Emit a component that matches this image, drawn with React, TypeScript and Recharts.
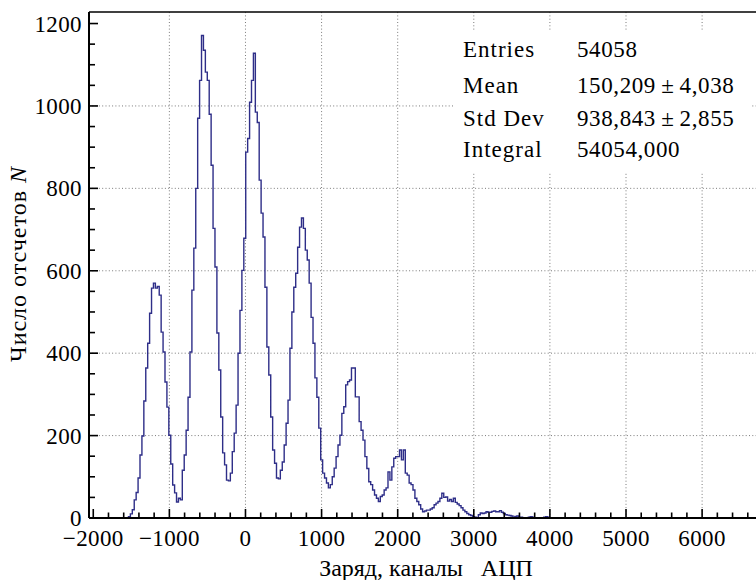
import React from 'react';
import { LineChart, Line, XAxis, YAxis, ReferenceLine } from 'recharts';

// histogram: left edge of first bin, bin width, counts per bin
const binStart = -1588;
const binWidth = 25.26;
const counts = [
  0, 0, 3, 10, 20, 44, 62, 97, 153, 199,
  284, 364, 424, 497, 558, 570, 558, 562, 541, 451,
  403, 330, 269, 201, 131, 80, 61, 39, 48, 44,
  116, 153, 213, 293, 403, 553, 655, 800, 970, 1062,
  1171, 1135, 1082, 1062, 980, 856, 703, 609, 449, 359,
  245, 158, 129, 92, 90, 109, 161, 206, 274, 400,
  504, 601, 679, 888, 921, 1009, 1062, 1128, 985, 960,
  820, 740, 682, 560, 415, 347, 245, 165, 133, 97,
  95, 116, 136, 177, 230, 286, 412, 500, 560, 594,
  657, 706, 728, 703, 650, 626, 570, 487, 424, 340,
  293, 218, 141, 109, 97, 85, 73, 81, 100, 121,
  149, 177, 201, 254, 270, 323, 331, 335, 364, 364,
  294, 294, 234, 213, 189, 149, 120, 88, 81, 68,
  56, 48, 40, 52, 56, 68, 73, 112, 92, 124,
  145, 149, 149, 165, 141, 165, 109, 104, 85, 81,
  68, 48, 40, 32, 22, 15, 17, 19, 19, 22,
  25, 32, 36, 40, 48, 60, 50, 51, 41, 45,
  40, 48, 38, 34, 30, 25, 19, 15, 11, 8,
  6, 3, 2, 1, 8, 12, 11, 12, 15, 14,
  14, 16, 17, 15, 15, 18, 14, 11, 8, 7,
  6, 5, 2, 4, 5, 2, 2, 1, 1, 1,
  2, 3, 2, 1, 1, 0, 1, 0, 2, 3,
  2, 1, 0, 0, 0, 0, 0, 0, 0, 0,
  0, 0, 0, 0, 0, 0, 0, 0, 0, 0,
  1, 1, 0, 0,
];

const xMajor = [-2000, -1000, 0, 1000, 2000, 3000, 4000, 5000, 6000];
const yMajor = [0, 200, 400, 600, 800, 1000, 1200];
const xGrid = [-1000, 0, 1000, 2000, 3000, 4000, 5000, 6000];
const yGrid = [200, 400, 600, 800, 1000];

const statsRows = [
  ['Entries', '54058'],
  ['Mean', '150,209\u2009±\u20094,038'],
  ['Std Dev', '938,843\u2009±\u20092,855'],
  ['Integral', '54054,000'],
];
const statsBaselines = [57, 92.5, 125.5, 157];

const xTitle = 'Заряд, каналы   АЦП';
const yTitle = 'Число отсчетов ';

const X_DOMAIN: [number, number] = [-2056, 6708];
const Y_DOMAIN: [number, number] = [0, 1228];

const FONT = "'Liberation Serif', 'DejaVu Serif', serif";
const LINE_COLOR = '#2e2e88';

const histData = counts
  .map((n, i) => ({ x: binStart + i * binWidth, n }))
  .concat([{ x: binStart + counts.length * binWidth, n: 0 }]);

const xTicks: number[] = [];
for (let v = -2000; v <= 6600; v += 200) xTicks.push(v);
const yTicks: number[] = [];
for (let v = 0; v <= 1200; v += 50) yTicks.push(v);

const fmt = (v: number) => (v < 0 ? '\u2212' + Math.abs(v) : String(v));

const XTick = (props: any) => {
  const { x, y, payload } = props;
  const major = xMajor.includes(payload.value);
  return (
    <g>
      <line x1={x} x2={x} y1={y} y2={y - (major ? 9 : 5.5)} stroke="#000" strokeWidth={1.6} />
      {major && (
        <text x={x} y={y + 28} textAnchor="middle" fontFamily={FONT} fontSize={23} fill="#000" letterSpacing={0.4}>
          {fmt(payload.value)}
        </text>
      )}
    </g>
  );
};

const YTick = (props: any) => {
  const { x, y, payload } = props;
  const major = yMajor.includes(payload.value);
  return (
    <g>
      <line x1={x} x2={x + (major ? 9 : 6)} y1={y} y2={y} stroke="#000" strokeWidth={1.6} />
      {major && (
        <text x={x - 7} y={y + 8} textAnchor="end" fontFamily={FONT} fontSize={23} fill="#000" letterSpacing={0.4}>
          {payload.value}
        </text>
      )}
    </g>
  );
};

export default function App() {
  return (
    <div style={{ position: 'absolute', left: 0, top: 0, width: 756, height: 580, overflow: 'hidden', background: '#fff' }}>
      <LineChart width={756} height={580} data={histData} margin={{ top: 12, right: 0, bottom: 0, left: 0 }}>
        {xGrid.map((v) => (
          <ReferenceLine key={'gx' + v} x={v} stroke="#7a7a7a" strokeDasharray="1 2.3" strokeWidth={1} />
        ))}
        {yGrid.map((v) => (
          <ReferenceLine key={'gy' + v} y={v} stroke="#7a7a7a" strokeDasharray="1 2.3" strokeWidth={1} />
        ))}
        <ReferenceLine y={Y_DOMAIN[1]} stroke="#000" strokeWidth={1.6} />
        <XAxis
          type="number"
          dataKey="x"
          domain={X_DOMAIN}
          allowDataOverflow
          ticks={xTicks}
          interval={0}
          tick={<XTick />}
          tickLine={false}
          tickSize={0}
          tickMargin={0}
          height={62}
          axisLine={{ stroke: '#000', strokeWidth: 2 }}
        />
        <YAxis
          type="number"
          domain={Y_DOMAIN}
          allowDataOverflow
          ticks={yTicks}
          interval={0}
          tick={<YTick />}
          tickLine={false}
          tickSize={0}
          tickMargin={0}
          width={89}
          axisLine={{ stroke: '#000', strokeWidth: 2 }}
        />
        <Line
          type="stepAfter"
          dataKey="n"
          stroke={LINE_COLOR}
          strokeWidth={1.4}
          dot={false}
          activeDot={false}
          isAnimationActive={false}
        />
      </LineChart>
      <svg width={756} height={580} style={{ position: 'absolute', left: 0, top: 0, pointerEvents: 'none' }}>
        <rect x={453} y={30} width={297} height={142} fill="#fff" />
        {statsRows.map(([k, v], i) => (
          <g key={k} fontFamily={FONT} fontSize={23} fill="#000">
            <text x={463} y={statsBaselines[i]} letterSpacing={1}>{k}</text>
            <text x={577} y={statsBaselines[i]} letterSpacing={0.6}>{v}</text>
          </g>
        ))}
        <text x={426} y={576} textAnchor="middle" fontFamily={FONT} fontSize={24} fill="#000" style={{ whiteSpace: 'pre' }}>
          {xTitle}
        </text>
        <text transform="translate(26,264) rotate(-90)" textAnchor="middle" fontFamily={FONT} fontSize={24} fill="#000" letterSpacing={1}>
          {yTitle}
          <tspan fontStyle="italic">N</tspan>
        </text>
      </svg>
    </div>
  );
}
